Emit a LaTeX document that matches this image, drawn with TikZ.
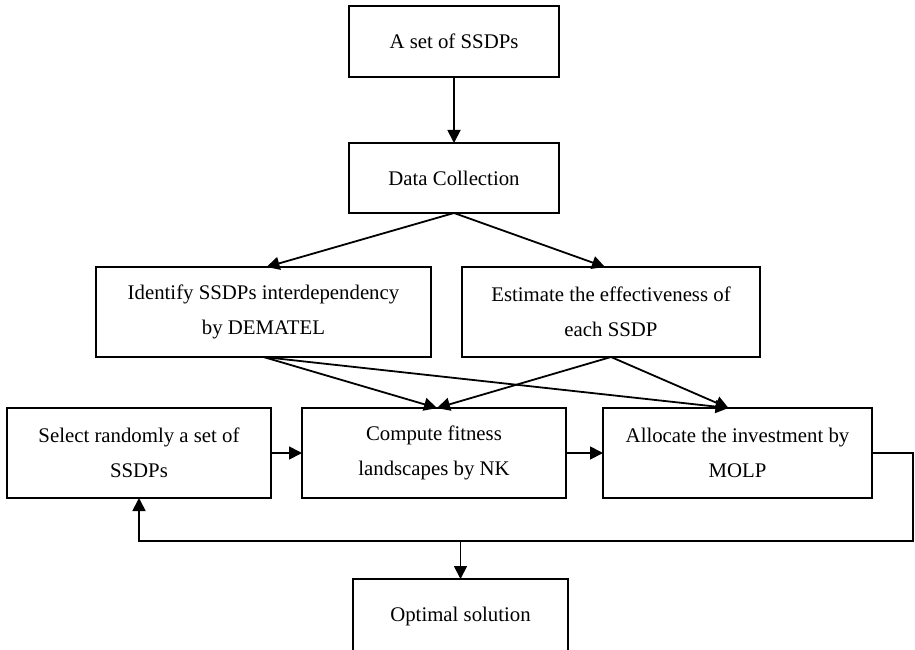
\documentclass[tikz,border=0pt]{standalone}
\usepackage{fontspec}
\setmainfont{Liberation Serif}
\usetikzlibrary{arrows.meta, positioning, calc}

\begin{document}
\begin{tikzpicture}[x=1pt, y=1pt, line width=1.8pt,
  box/.style={rectangle, draw, line width=1.8pt, align=center, inner sep=0pt, outer sep=0pt,
    minimum height=90pt, font=\fontsize{20.8}{35}\selectfont},
  arr/.style={-{Triangle[length=13pt,width=13pt]}}]
  \useasboundingbox (0,0) rectangle (915,649);
  \node[box, minimum width=210pt, minimum height=71pt] (set) at (454,607.5) {A set of SSDPs};
  \node[box, minimum width=210pt, minimum height=70pt] (data) at (454,471) {Data Collection};
  \node[box, minimum width=335pt] (dem) at (263.5,337) {Identify SSDPs interdependency\\by DEMATEL};
  \node[box, minimum width=298pt] (eff) at (611,337) {Estimate the effectiveness of\\each SSDP};
  \node[box, minimum width=264pt] (sel) at (139,196) {Select randomly a set of\\SSDPs};
  \node[box, minimum width=264pt, right=31pt of sel] (nk) {Compute fitness\\landscapes by NK};
  \node[box, minimum width=269pt, right=37pt of nk] (alloc) {Allocate the investment by\\MOLP};
  \node[box, minimum width=215pt, minimum height=74pt] (opt) at (460.5,33) {Optimal solution};
  \draw[arr] (set) -- (data);
  \draw[arr] (data.south) -- ([xshift=3pt]dem.north);
  \draw[arr] (data.south) -- ([xshift=-6pt]eff.north);
  \draw[arr] (dem.south) -- ([xshift=3pt]nk.north);
  \draw[arr] (dem.south) -- ([xshift=-9pt]alloc.north);
  \draw[arr] (eff.south) -- ([xshift=3pt]nk.north);
  \draw[arr] (eff.south) -- ([xshift=-9pt]alloc.north);
  \draw[arr] (sel) -- (nk);
  \draw[arr] (nk) -- (alloc);
  % feedback loop
  \coordinate (turn) at ($(alloc.east)+(41,0)$);
  \coordinate (split) at (opt.north |- 0,108);
  \draw[arr] (alloc.east) -- (turn) |- (split) -| (sel.south);
  \draw[arr] (split) -- (opt);
\end{tikzpicture}
\end{document}
